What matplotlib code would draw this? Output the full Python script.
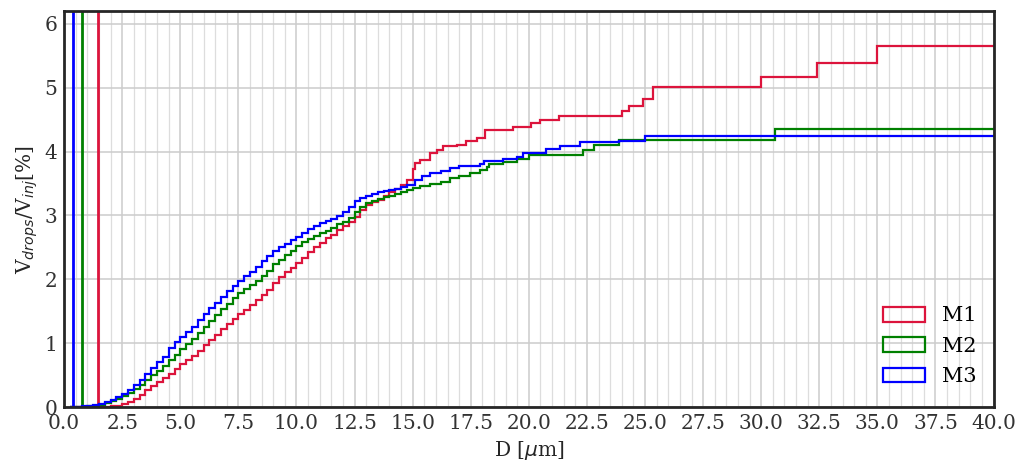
import numpy as np
import matplotlib
matplotlib.use("Agg")
import matplotlib.pyplot as plt
from matplotlib.ticker import MultipleLocator

plt.rcParams['font.family'] = 'DejaVu Serif'
plt.rcParams['mathtext.fontset'] = 'dejavusans'

# fine bins (bin start positions) for the dense part of the curves
fine_edges = np.arange(0.25, 15.0, 0.25)

# cumulative V_drops/V_inj [%] per fine bin
m1_fine = [0.00, 0.00, 0.00, 0.00, 0.00, 0.00, 0.00, 0.01, 0.02, 0.04,
           0.08, 0.13, 0.19, 0.26, 0.33, 0.39, 0.45, 0.52, 0.60, 0.67,
           0.74, 0.80, 0.88, 0.97, 1.05, 1.13, 1.22, 1.30, 1.38, 1.45,
           1.52, 1.60, 1.67, 1.75, 1.84, 1.94, 2.04, 2.12, 2.18, 2.25,
           2.34, 2.42, 2.50, 2.57, 2.64, 2.70, 2.77, 2.84, 2.90, 2.98,
           3.08, 3.17, 3.21, 3.24, 3.30, 3.36, 3.42, 3.48, 3.55]
m2_fine = [0.00, 0.00, 0.00, 0.01, 0.02, 0.03, 0.06, 0.09, 0.13, 0.17,
           0.22, 0.28, 0.35, 0.42, 0.50, 0.57, 0.65, 0.73, 0.81, 0.91,
           0.99, 1.07, 1.16, 1.25, 1.34, 1.44, 1.53, 1.62, 1.70, 1.78,
           1.85, 1.91, 1.98, 2.05, 2.13, 2.24, 2.31, 2.38, 2.45, 2.52,
           2.58, 2.63, 2.68, 2.72, 2.76, 2.81, 2.86, 2.90, 2.96, 3.05,
           3.14, 3.19, 3.23, 3.26, 3.29, 3.31, 3.34, 3.37, 3.40]
m3_fine = [0.00, 0.00, 0.01, 0.02, 0.03, 0.05, 0.08, 0.11, 0.15, 0.20,
           0.27, 0.34, 0.43, 0.52, 0.61, 0.70, 0.79, 0.92, 1.02, 1.10,
           1.18, 1.26, 1.36, 1.45, 1.55, 1.63, 1.72, 1.82, 1.90, 1.97,
           2.05, 2.12, 2.20, 2.28, 2.36, 2.44, 2.50, 2.56, 2.62, 2.67,
           2.73, 2.79, 2.84, 2.88, 2.91, 2.94, 2.99, 3.05, 3.14, 3.22,
           3.27, 3.30, 3.33, 3.36, 3.38, 3.40, 3.42, 3.45, 3.47]

# sparse tail: bin edges and cumulative values
m1_tail_edges = [15.0, 15.1, 15.3, 15.75, 16.05, 16.3, 16.9, 17.3, 17.75, 18.1, 19.3,
                 20.1, 20.5, 21.3, 24.0, 24.3, 24.9, 25.35, 30.0, 32.4, 35.0, 45.0]
m1_tail = [3.72, 3.82, 3.87, 3.98, 4.03, 4.08, 4.10, 4.16, 4.21, 4.34, 4.39,
           4.45, 4.50, 4.55, 4.63, 4.72, 4.82, 5.01, 5.17, 5.39, 5.65]
m2_tail_edges = [15.0, 15.3, 15.75, 16.2, 16.6, 17.0, 17.45, 17.9, 18.2, 18.3, 18.9,
                 19.5, 20.0, 22.35, 22.8, 23.9, 30.6, 45.0]
m2_tail = [3.43, 3.46, 3.49, 3.53, 3.59, 3.62, 3.66, 3.71, 3.76, 3.80, 3.84,
           3.88, 3.95, 4.03, 4.11, 4.18, 4.36]
m3_tail_edges = [15.0, 15.1, 15.4, 15.75, 16.2, 16.6, 17.0, 17.9, 18.05, 18.9, 19.5,
                 19.75, 20.75, 21.35, 22.2, 23.9, 25.0, 45.0]
m3_tail = [3.48, 3.56, 3.61, 3.66, 3.70, 3.74, 3.77, 3.80, 3.85, 3.88, 3.92,
           3.98, 4.04, 4.09, 4.15, 4.17, 4.25]

labels = ['M1', 'M2', 'M3']
colors = ['crimson', 'green', 'blue']
d_min = [1.47, 0.76, 0.40]   # smallest drop diameter per case

series = [(m1_fine, m1_tail_edges, m1_tail),
          (m2_fine, m2_tail_edges, m2_tail),
          (m3_fine, m3_tail_edges, m3_tail)]

fig = plt.figure(figsize=(10.18, 4.62), dpi=100)
ax = fig.add_axes([0.063, 0.119, 0.913, 0.857])

for (fine, tail_edges, tail), lab, c, dm in zip(series, labels, colors, d_min):
    edges = np.concatenate([fine_edges, tail_edges])
    vals = np.concatenate([fine, tail])
    ax.hist(edges[:-1], bins=edges, weights=vals, histtype='step',
            color=c, lw=1.6, label=lab)
    ax.axvline(dm, color=c, lw=2)

ax.set_xlim(0, 40)
ax.set_ylim(0, 6.2)
ax.xaxis.set_major_locator(MultipleLocator(2.5))
ax.xaxis.set_minor_locator(MultipleLocator(0.5))
ax.yaxis.set_major_locator(MultipleLocator(1))
ax.set_axisbelow(True)
ax.grid(which='major', color='#cccccc', lw=1.1)
ax.grid(which='minor', axis='x', color='#dddddd', lw=0.9)
ax.tick_params(which='both', length=0, labelsize=14.5, colors='#333333', pad=5)
for s in ax.spines.values():
    s.set_color('#262626')
    s.set_linewidth(2)

ax.set_xlabel(r'D [$\mu$m]', fontsize=14.5, color='#262626', labelpad=4)
ax.set_ylabel(r'V$_{drops}$/V$_{inj}$[%]', fontsize=14.5, color='#262626', labelpad=3)

ax.legend(loc='lower right', frameon=False, fontsize=15, handlelength=2.05,
          handleheight=0.72, labelspacing=0.55, handletextpad=0.8,
          bbox_to_anchor=(1.002, 0.005))

fig.savefig('out.png', dpi=100)
